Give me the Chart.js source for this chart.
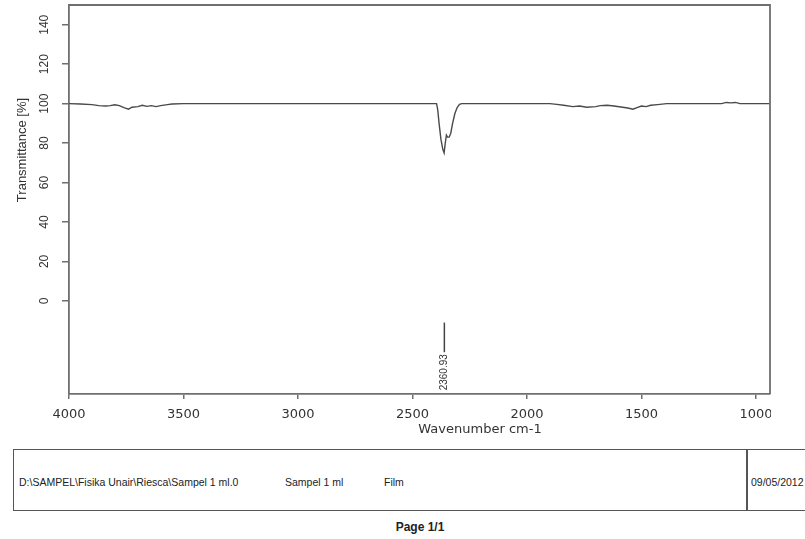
<!DOCTYPE html>
<html>
<head>
<meta charset="utf-8">
<script src="https://cdn.jsdelivr.net/npm/chart.js@4.4.1/dist/chart.umd.min.js"></script>
<style>
  html, body { margin: 0; padding: 0; background: #fff; width: 805px; height: 539px; overflow: hidden; }
  #wrap { position: absolute; left: 0; top: 0; width: 771px; height: 445px; overflow: hidden; }
  #footer { position: absolute; left: 13px; top: 449px; width: 820px; height: 62px; border: 1.5px solid #555; box-sizing: border-box; font-family: "Liberation Sans", Arial, sans-serif; font-size: 10.5px; color: #222; }
  #footer span { position: absolute; top: 26px; white-space: nowrap; }
  #divider { position: absolute; left: 732px; top: 0; width: 1.5px; height: 100%; background: #555; }
  #page { position: absolute; left: 0; top: 520px; width: 840px; text-align: center; font-family: "Liberation Sans", Arial, sans-serif; font-weight: bold; font-size: 12px; color: #222; }
</style>
</head>
<body>
<div id="wrap"><canvas id="c" width="805" height="445"></canvas></div>
<div id="footer">
  <span style="left:5px">D:\SAMPEL\Fisika Unair\Riesca\Sampel 1 ml.0</span>
  <span style="left:271px">Sampel 1 ml</span>
  <span style="left:370px">Film</span>
  <div id="divider"></div>
  <span style="left:737px">09/05/2012</span>
</div>
<div id="page">Page 1/1</div>
<script>
// Wavenumbers (cm-1) and transmittance (%)
const wavenumbers = [4000, 3950, 3900, 3870, 3840, 3820, 3800, 3780, 3760, 3740, 3725, 3700, 3680, 3660, 3640, 3620, 3600, 3570, 3550, 3500,
  2395, 2390, 2384, 2376, 2368, 2362, 2357, 2352, 2347, 2340, 2333, 2325, 2315, 2305, 2295, 2285,
  1900, 1870, 1840, 1800, 1770, 1740, 1700, 1680, 1650, 1620, 1590, 1560, 1537, 1520, 1500, 1480, 1460, 1430, 1390,
  1150, 1130, 1110, 1090, 1070, 940];
const transmittance = [100, 99.8, 99.5, 99.0, 98.8, 99.0, 99.4, 99.0, 98.0, 97.2, 98.2, 98.5, 99.2, 98.6, 99.0, 98.5, 99.0, 99.5, 99.8, 100,
  100, 97, 90, 82, 77, 75, 80, 84, 83, 83, 85, 90, 95, 98, 99.6, 100,
  100, 99.6, 99.2, 98.5, 98.8, 98.2, 98.5, 99.0, 99.2, 98.8, 98.3, 97.8, 97.2, 98.0, 98.8, 98.5, 99.2, 99.5, 100,
  100, 100.6, 100.4, 100.6, 100, 100];
const xTicks = [4000, 3500, 3000, 2500, 2000, 1500, 1000];
const yTicks = [0, 20, 40, 60, 80, 100, 120, 140];
const peakLabel = "2360.93";
const peakPos = 2360.93;
const peakMark = [-11, -26];
const xTitle = "Wavenumber cm-1";
const yTitle = "Transmittance [%]";

const points = wavenumbers.map((w, i) => ({ x: w, y: transmittance[i] }));
const axisColor = '#6f6f6f';

const decor = {
  id: 'decor',
  afterDraw(chart) {
    const ctx = chart.ctx;
    const a = chart.chartArea;
    const xs = chart.scales.x, ys = chart.scales.y;
    ctx.save();
    // top and right frame
    ctx.strokeStyle = axisColor;
    ctx.lineWidth = 1.8;
    ctx.beginPath();
    ctx.moveTo(a.left, a.top);
    ctx.lineTo(a.right, a.top);
    ctx.lineTo(a.right, a.bottom);
    ctx.stroke();
    // peak marker
    const px = xs.getPixelForValue(peakPos);
    ctx.strokeStyle = '#444';
    ctx.lineWidth = 1.5;
    ctx.beginPath();
    ctx.moveTo(px, ys.getPixelForValue(peakMark[0]));
    ctx.lineTo(px, ys.getPixelForValue(peakMark[1]));
    ctx.stroke();
    ctx.fillStyle = '#333';
    ctx.font = '10px "Liberation Sans", Arial, sans-serif';
    ctx.save();
    ctx.translate(px, ys.getPixelForValue(peakMark[1]) + 2);
    ctx.rotate(-Math.PI / 2);
    ctx.textAlign = 'right';
    ctx.textBaseline = 'middle';
    ctx.fillText(peakLabel, 0, 0);
    ctx.restore();
    // axis titles
    ctx.fillStyle = '#333';
    ctx.font = '13px "DejaVu Sans", sans-serif';
    ctx.textAlign = 'center';
    ctx.textBaseline = 'middle';
    ctx.fillText(xTitle, 480, 430);
    ctx.save();
    ctx.translate(22, 150);
    ctx.rotate(-Math.PI / 2);
    ctx.font = '13px "Liberation Sans", Arial, sans-serif';
    ctx.fillText(yTitle, 0, 0);
    ctx.restore();
    ctx.restore();
  }
};

new Chart(document.getElementById('c'), {
  type: 'line',
  data: {
    datasets: [{
      data: points,
      borderColor: '#4a4a4a',
      borderWidth: 1.4,
      pointRadius: 0,
      tension: 0,
      fill: false
    }]
  },
  options: {
    responsive: false,
    animation: false,
    devicePixelRatio: 1,
    layout: { padding: { left: 0, top: 5, right: 35, bottom: 0 } },
    plugins: { legend: { display: false }, tooltip: { enabled: false } },
    scales: {
      x: {
        type: 'linear',
        reverse: true,
        min: 939,
        max: 4000,
        afterBuildTicks: (s) => { s.ticks = xTicks.map(v => ({ value: v })); },
        afterFit: (s) => { s.height = 51; s.paddingLeft = 0; s.paddingRight = 0; },
        grid: { drawOnChartArea: false, drawTicks: true, tickLength: 5, color: axisColor, lineWidth: 1.5 },
        border: { display: true, color: axisColor, width: 1.8 },
        ticks: { color: '#333', font: { family: 'DejaVu Sans', size: 13 }, padding: 8, maxRotation: 0, autoSkip: false, callback: (v) => String(v) }
      },
      y: {
        type: 'linear',
        min: -47.2,
        max: 150,
        afterBuildTicks: (s) => { s.ticks = yTicks.map(v => ({ value: v })); },
        afterFit: (s) => { s.width = 69; s.paddingTop = 0; s.paddingBottom = 0; },
        grid: { drawOnChartArea: false, drawTicks: true, tickLength: 7, color: axisColor, lineWidth: 1.5 },
        border: { display: true, color: axisColor, width: 1.8 },
        ticks: { color: '#333', font: { family: 'Liberation Sans', size: 12 }, padding: 7, minRotation: 90, maxRotation: 90, crossAlign: 'center', autoSkip: false, callback: (v) => String(v) }
      }
    }
  },
  plugins: [decor]
});
</script>
</body>
</html>
